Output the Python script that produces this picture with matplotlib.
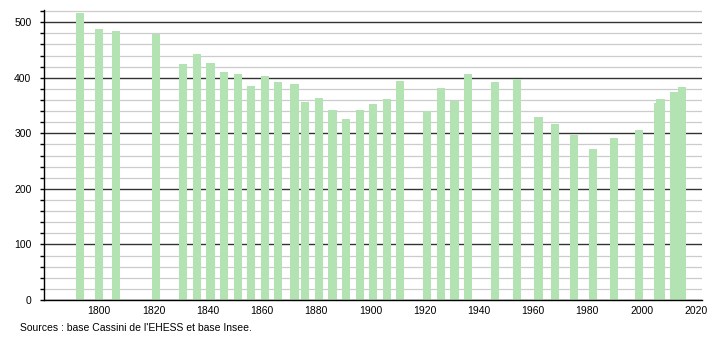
import matplotlib
matplotlib.use("Agg")
import matplotlib.pyplot as plt
from matplotlib.ticker import MultipleLocator

years = [1793, 1800, 1806, 1821, 1831, 1836, 1841, 1846, 1851, 1856, 1861, 1866,
         1872, 1876, 1881, 1886, 1891, 1896, 1901, 1906, 1911, 1921, 1926, 1931,
         1936, 1946, 1954, 1962, 1968, 1975, 1982, 1990, 1999, 2006, 2007, 2012, 2015]
population = [516, 487, 484, 479, 425, 443, 427, 410, 407, 385, 404, 392,
              389, 356, 363, 342, 326, 342, 353, 362, 394, 340, 381, 359,
              407, 392, 398, 329, 317, 297, 272, 292, 306, 355, 362, 374, 383]
x_ticks = [1800, 1820, 1840, 1860, 1880, 1900, 1920, 1940, 1960, 1980, 2000, 2020]
y_ticks = [0, 100, 200, 300, 400, 500]
source = "Sources : base Cassini de l'EHESS et base Insee."

plt.rcParams['font.family'] = ['Liberation Sans', 'DejaVu Sans']

fig = plt.figure(figsize=(7.1, 3.4), dpi=100)
ax = fig.add_axes([44/710, 1 - 300/340, (702-44)/710, (300-10)/340])

ax.set_xlim(1779.6, 2022.3)
ax.set_ylim(0, 522)

ax.yaxis.set_minor_locator(MultipleLocator(20))
ax.set_yticks(y_ticks)
ax.set_xticks(x_ticks)

ax.grid(which='minor', axis='y', color='#cccccc', linewidth=0.9, zorder=0)
ax.grid(which='major', axis='y', color='#333333', linewidth=1.0, zorder=1)
ax.set_axisbelow(True)

ax.bar(years, population, width=3.0, color='#b3e3b3', zorder=2, align='center')

for s in ['top', 'right']:
    ax.spines[s].set_visible(False)
ax.spines['left'].set_color('black')
ax.spines['bottom'].set_color('black')
ax.spines['left'].set_linewidth(1.0)
ax.spines['bottom'].set_linewidth(1.0)

ax.tick_params(axis='y', which='major', direction='out', length=3, width=1, labelsize=7.5, pad=6)
ax.tick_params(axis='y', which='minor', direction='out', length=3, width=1)
ax.tick_params(axis='x', which='major', length=0, labelsize=7.5, pad=4)

fig.text(20/710, 1 - 328/340, source, fontsize=7.5, va='center', ha='left')

fig.savefig('out.png', dpi=100)
